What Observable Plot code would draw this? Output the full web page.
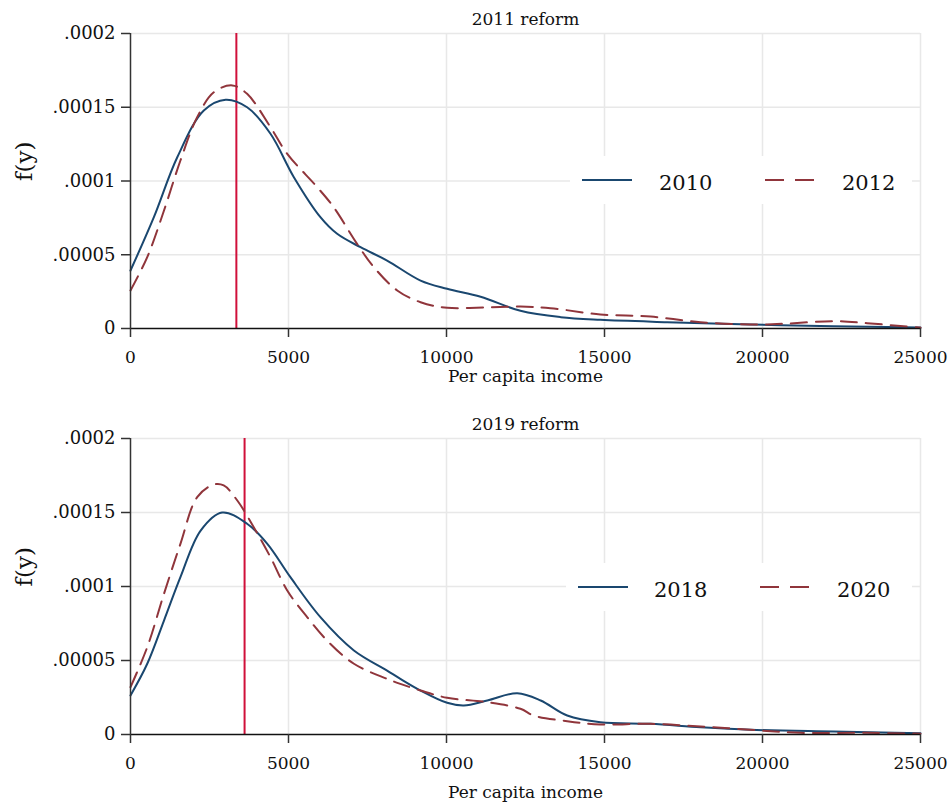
<!DOCTYPE html>
<html>
<head>
<meta charset="utf-8">
<script src="https://cdn.jsdelivr.net/npm/d3@7"></script>
<script src="https://cdn.jsdelivr.net/npm/@observablehq/plot@0.6"></script>
<style>
  html, body { margin: 0; padding: 0; background: #fff; }
  .panel { position: relative; width: 951px; height: 402px; }
  .legend { position: absolute; background: #fff; }
  svg { display: block; }
</style>
</head>
<body>
<div id="p1" class="panel"></div>
<div id="p2" class="panel"></div>
<script>
// ---- data ----
const xTicks = [0, 5000, 10000, 15000, 20000, 25000];
const xTickLabels = ["0", "5000", "10000", "15000", "20000", "25000"];
const yTicks = [0, 0.00005, 0.0001, 0.00015, 0.0002];
const yTickLabels = ["0", ".00005", ".0001", ".00015", ".0002"];

const titles = ["2011 reform", "2019 reform"];
const xLabel = "Per capita income";
const yLabel = "f(y)";

const reform2011 = 3350;
const reform2019 = 3610;

const inc2010 = [0, 740, 1480, 2320, 3010, 3690, 4430, 5170, 6010, 6540, 7280, 8120, 9180, 10020, 11080, 12340, 13610, 14870, 16980, 19620, 22250, 25000];
const den2010 = [3.93e-5, 7.55e-5, 1.161e-4, 1.478e-4, 1.551e-4, 1.500e-4, 1.320e-4, 1.026e-4, 7.55e-5, 6.42e-5, 5.51e-5, 4.61e-5, 3.25e-5, 2.69e-5, 2.15e-5, 1.2e-5, 7.7e-6, 5.9e-6, 4.3e-6, 2.7e-6, 1.5e-6, 6e-7];

const inc2012 = [0, 530, 1060, 1580, 2110, 2640, 3220, 3690, 4430, 4960, 5910, 6430, 7170, 7700, 8440, 9180, 10020, 11290, 12340, 13290, 14870, 16460, 18040, 19620, 20670, 22250, 23310, 25000];
const den2012 = [2.58e-5, 4.84e-5, 8.0e-5, 1.139e-4, 1.433e-4, 1.602e-4, 1.648e-4, 1.591e-4, 1.365e-4, 1.184e-4, 9.58e-5, 8.22e-5, 5.74e-5, 4.16e-5, 2.58e-5, 1.78e-5, 1.40e-5, 1.44e-5, 1.49e-5, 1.38e-5, 9.5e-6, 8.1e-6, 4.3e-6, 2.7e-6, 3.2e-6, 5.0e-6, 3.6e-6, 5e-7];

const inc2018 = [0, 530, 1060, 1580, 2220, 2900, 3690, 4330, 5060, 6010, 7070, 8120, 8540, 9180, 10020, 10550, 11290, 12240, 12980, 13820, 14870, 16460, 18040, 19620, 22250, 25000];
const den2018 = [2.64e-5, 4.78e-5, 7.70e-5, 1.063e-4, 1.378e-4, 1.50e-4, 1.424e-4, 1.288e-4, 1.063e-4, 7.93e-5, 5.68e-5, 4.32e-5, 3.76e-5, 2.97e-5, 2.14e-5, 1.96e-5, 2.30e-5, 2.79e-5, 2.3e-5, 1.28e-5, 8.3e-6, 7.2e-6, 4.9e-6, 3.2e-6, 2.0e-6, 9e-7];

const inc2020 = [0, 530, 1060, 1580, 2110, 2640, 2950, 3380, 3900, 4430, 4960, 5590, 6220, 7070, 8120, 8540, 9180, 10020, 11290, 12340, 12760, 13820, 14870, 16460, 18040, 19620, 21200, 23310, 25000];
const den2020 = [3.2e-5, 5.90e-5, 9.51e-5, 1.288e-4, 1.604e-4, 1.689e-4, 1.683e-4, 1.581e-4, 1.401e-4, 1.198e-4, 9.73e-5, 7.93e-5, 6.35e-5, 4.78e-5, 3.76e-5, 3.42e-5, 2.97e-5, 2.48e-5, 2.18e-5, 1.74e-5, 1.28e-5, 9.0e-6, 6.8e-6, 7.2e-6, 5.4e-6, 3.2e-6, 1.1e-6, 1.1e-6, 5e-7];

// ---- style ----
const FONT = "'DejaVu Serif', serif";
const BLUE = "#1a476f";
const RED = "#90353b";
const VLINE = "#d0103a";
const GRID = "#e8e8e8";
const DASH = "16,9";

function toRows(xs, ys) { return xs.map((x, i) => ({x, y: ys[i]})); }

function panel(el, cfg) {
  const a = toRows(cfg.xa, cfg.ya);
  const b = toRows(cfg.xb, cfg.yb);
  const chart = Plot.plot({
    width: 951,
    height: 402,
    marginLeft: 130,
    marginRight: 31,
    marginTop: cfg.mt,
    marginBottom: cfg.mb,
    style: {fontFamily: FONT, fontSize: "16px", color: "#111", background: "#fff"},
    x: {domain: [0, 25000]},
    y: {domain: [0, 0.0002]},
    marks: [
      Plot.gridX(xTicks.slice(1), {stroke: GRID, strokeOpacity: 1, strokeWidth: 1.5}),
      Plot.gridY(yTicks.slice(1), {stroke: GRID, strokeOpacity: 1, strokeWidth: 1.5}),
      Plot.ruleX([cfg.reform], {stroke: VLINE, strokeWidth: 2}),
      Plot.line(a, {x: "x", y: "y", stroke: BLUE, strokeWidth: 2, curve: "catmull-rom"}),
      Plot.line(b, {x: "x", y: "y", stroke: RED, strokeWidth: 2, strokeDasharray: DASH, curve: "catmull-rom"}),
      Plot.ruleY([0], {stroke: "#111", strokeWidth: 1.5}),
      Plot.ruleX([0], {stroke: "#333", strokeWidth: 1.5}),
      Plot.axisX({ticks: xTicks, tickFormat: (d, i) => xTickLabels[i], tickSize: 9, tickPadding: 13, label: null, stroke: "#333", strokeWidth: 1.5, fontSize: 17}),
      Plot.axisY({ticks: yTicks, tickFormat: (d, i) => yTickLabels[i], tickSize: 9, tickPadding: 6, label: null, stroke: "#333", strokeWidth: 1.5, fontSize: 18}),
      Plot.text([cfg.title], {frameAnchor: "top", dy: -21, fontSize: 17, fill: "#111"}),
      Plot.text([xLabel], {frameAnchor: "bottom", dy: cfg.xlabDy, fontSize: 17, fill: "#111"}),
      Plot.text([yLabel], {frameAnchor: "left", dx: -106, rotate: -90, fontSize: 23, fill: "#111"})
    ]
  });
  el.appendChild(chart);

  // legend overlay
  const lg = document.createElement("div");
  lg.className = "legend";
  const L = cfg.legend;
  lg.style.left = L.left + "px";
  lg.style.top = L.top + "px";
  lg.style.width = L.width + "px";
  lg.style.height = "48px";
  const ns = "http://www.w3.org/2000/svg";
  const s = document.createElementNS(ns, "svg");
  s.setAttribute("width", L.width);
  s.setAttribute("height", 48);
  s.style.fontFamily = FONT;
  const items = [
    {x1: L.l1[0], x2: L.l1[1], tx: L.t1, label: cfg.names[0], stroke: BLUE, dash: null},
    {x1: L.l2[0], x2: L.l2[1], tx: L.t2, label: cfg.names[1], stroke: RED, dash: "19,11"}
  ];
  for (const it of items) {
    const ln = document.createElementNS(ns, "line");
    ln.setAttribute("x1", it.x1); ln.setAttribute("x2", it.x2);
    ln.setAttribute("y1", 24); ln.setAttribute("y2", 24);
    ln.setAttribute("stroke", it.stroke); ln.setAttribute("stroke-width", 2);
    if (it.dash) ln.setAttribute("stroke-dasharray", it.dash);
    s.appendChild(ln);
    const t = document.createElementNS(ns, "text");
    t.setAttribute("x", it.tx); t.setAttribute("y", 28);
    t.setAttribute("dominant-baseline", "middle");
    t.setAttribute("font-size", 21);
    t.setAttribute("fill", "#111");
    t.textContent = it.label;
    s.appendChild(t);
  }
  lg.appendChild(s);
  el.appendChild(lg);
}

panel(document.getElementById("p1"), {
  xa: inc2010, ya: den2010, xb: inc2012, yb: den2012,
  reform: reform2011, title: titles[0], names: ["2010", "2012"],
  mt: 33, mb: 74, xlabDy: 53,
  legend: {left: 570, top: 156, width: 342, l1: [12, 62], t1: 89, l2: [195, 244], t2: 272}
});
panel(document.getElementById("p2"), {
  xa: inc2018, ya: den2018, xb: inc2020, yb: den2020,
  reform: reform2019, title: titles[1], names: ["2018", "2020"],
  mt: 36, mb: 70, xlabDy: 63,
  legend: {left: 566, top: 161, width: 346, l1: [12, 62], t1: 88, l2: [194, 243], t2: 271}
});
</script>
</body>
</html>
